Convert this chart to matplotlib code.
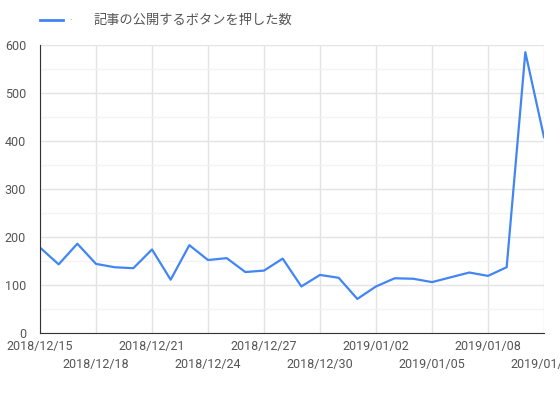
import datetime as dt
import matplotlib
matplotlib.use("Agg")
import matplotlib.pyplot as plt
from matplotlib.ticker import MultipleLocator

plt.rcParams['font.family'] = ['Roboto', 'Noto Sans CJK JP', 'DejaVu Sans']

start = dt.date(2018, 12, 15)
dates = [start + dt.timedelta(days=i) for i in range(28)]
counts = [178, 143, 186, 144, 137, 135, 174, 111, 183, 152, 156, 127, 130, 155,
          97, 121, 115, 71, 97, 114, 113, 106, 116, 126, 119, 137, 585, 408]
tick_dates = [start + dt.timedelta(days=3 * i) for i in range(10)]
label = "記事の公開するボタンを押した数"

fig = plt.figure(figsize=(5.6, 3.96), dpi=100)
ax = fig.add_axes([40 / 560, 63 / 396, 504 / 560, 288 / 396])

ax.plot(dates, counts, color="#4285F4", linewidth=1.6)

ax.set_xlim(dates[0], dates[-1])
ax.set_ylim(0, 600)
ax.yaxis.set_major_locator(MultipleLocator(100))
ax.yaxis.set_minor_locator(MultipleLocator(50))

# alternate tick labels on two rows: upper row as major, lower row as minor
upper = tick_dates[0::2]
lower = tick_dates[1::2]
ax.set_xticks(upper)
ax.set_xticklabels([d.strftime("%Y/%m/%d") for d in upper])
ax.set_xticks(lower, minor=True)
ax.set_xticklabels([d.strftime("%Y/%m/%d") for d in lower], minor=True)

ax.grid(which="both", axis="x", color="#e4e4e4", linewidth=1)
ax.grid(which="major", axis="y", color="#e4e4e4", linewidth=1)
ax.grid(which="minor", axis="y", color="#f3f3f3", linewidth=1)
ax.set_axisbelow(True)
ax.tick_params(which="both", length=0, colors="#555555", labelsize=9)
ax.tick_params(axis="x", which="major", pad=5)
ax.tick_params(axis="x", which="minor", pad=18)
ax.tick_params(axis="y", pad=10)
for s in ["top", "right"]:
    ax.spines[s].set_visible(False)
for s in ["left", "bottom"]:
    ax.spines[s].set_color("#333333")

fig.add_artist(plt.Line2D([40 / 560, 63 / 560], [1 - 20 / 396, 1 - 20 / 396],
                          color="#4285F4", linewidth=2))
fig.text(69 / 560, 1 - 20 / 396, "·", color="#888888", fontsize=7, va="center")
fig.text(93 / 560, 1 - 20 / 396, label, color="#555555", fontsize=9.5, va="center",
         family=["Noto Sans CJK JP", "DejaVu Sans"])

fig.savefig("out.png", dpi=100, facecolor="white")
